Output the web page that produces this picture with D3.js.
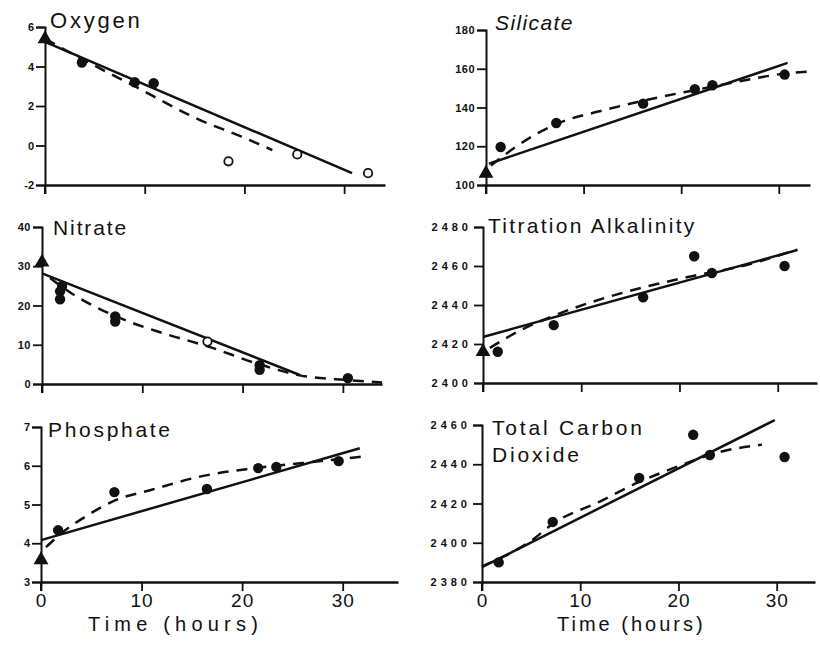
<!DOCTYPE html>
<html>
<head>
<meta charset="utf-8">
<script src="https://cdn.jsdelivr.net/npm/d3@7"></script>
<style>
  body { margin: 0; background: #fff; }
  svg { display: block; font-family: "Liberation Sans", Arial, Helvetica, sans-serif; }
</style>
</head>
<body>
<svg id="chart" width="820" height="649"></svg>
<script>
// ---- shared time axis ----
const hourTicks = [0, 10, 20, 30];

// ---- Oxygen ----
const oxygenTicks = [-2, 0, 2, 4, 6];
const oxygenInitial = [[0, 5.4]];
const oxygenObserved = [[3.7, 4.2], [9.0, 3.2], [10.9, 3.15]];
const oxygenOpen = [[18.4, -0.8], [25.3, -0.45], [32.4, -1.4]];
const oxygenLinear = [[0, 5.25], [30.8, -1.4]];
const oxygenModel = [[0, 5.4], [4, 4.3], [9, 3.0], [15.5, 1.3], [19.7, 0.45], [22.8, -0.23]];

// ---- Silicate ----
const silicateTicks = [100, 120, 140, 160, 180];
const silicateInitial = [[0, 106]];
const silicateObserved = [[1.5, 119.6], [7.2, 132], [16.1, 142], [21.4, 149.5], [23.2, 151.5], [30.6, 157]];
const silicateLinear = [[0.3, 111], [30.9, 163]];
const silicateModel = [[0.5, 110], [3, 119.5], [7.2, 131.5], [12, 138.5], [16.1, 143.5], [21.4, 149], [26, 153.5], [30.6, 157.5], [33.2, 158.6]];

// ---- Nitrate ----
const nitrateTicks = [0, 10, 20, 30, 40];
const nitrateInitial = [[0, 31]];
const nitrateObserved = [[1.8, 21.6], [1.8, 23.6], [2.0, 25.0], [7.3, 17.2], [7.3, 15.9], [21.7, 4.8], [21.7, 3.6], [30.5, 1.5]];
const nitrateOpen = [[16.5, 10.8]];
const nitrateLinear = [[0, 28.2], [25.7, 2.3]];
const nitrateModel = [[0.8, 27], [3, 23], [7.3, 17.3], [12, 13], [16.5, 9.6], [21.7, 5.0], [25.7, 2.2], [30.5, 1.0], [33.9, 0.4]];

// ---- Titration Alkalinity ----
const alkalinityTicks = [2400, 2420, 2440, 2460, 2480];
const alkalinityInitial = [[0, 2416]];
const alkalinityObserved = [[1.5, 2416], [7.2, 2429.7], [16.3, 2444], [21.5, 2465], [23.3, 2456.4], [30.7, 2460]];
const alkalinityLinear = [[0, 2423.6], [32, 2468.2]];
const alkalinityModel = [[0.7, 2418], [3.8, 2427], [7.2, 2434.5], [12, 2443], [16.3, 2449], [21.5, 2455], [26, 2459.5], [32, 2468.5]];

// ---- Phosphate ----
const phosphateTicks = [3, 4, 5, 6, 7];
const phosphateInitial = [[0, 3.57]];
const phosphateObserved = [[1.7, 4.34], [7.3, 5.32], [16.5, 5.4], [21.6, 5.94], [23.4, 5.97], [29.6, 6.12]];
const phosphateLinear = [[0, 4.08], [31.7, 6.45]];
const phosphateModel = [[0.5, 3.9], [2, 4.25], [4.5, 4.7], [7.3, 5.1], [11, 5.38], [15.8, 5.72], [21, 5.93], [26, 6.07], [30, 6.18], [32.5, 6.25]];

// ---- Total Carbon Dioxide ----
const carbonTicks = [2380, 2400, 2420, 2440, 2460];
const carbonObserved = [[1.7, 2390], [7.2, 2410.6], [16, 2433], [21.5, 2455], [23.2, 2444.7], [30.8, 2443.7]];
const carbonLinear = [[0, 2387.6], [29.8, 2462.5]];
const carbonModel = [[0, 2388], [3, 2395], [5, 2401], [7.3, 2410], [12, 2421], [16, 2431], [20, 2439], [24, 2446], [28.5, 2450]];

// ---- panel frames (pixel boxes) ----
const panels = [
  { title: ["Oxygen"], italic: false, titleX: 50, titleY: 28, titleSize: 22, titleSpacing: 2.8,
    left: 45, right: 385, xMax: 34.1, top: 27, bottom: 185, yDomain: [-2, 6], ticks: oxygenTicks,
    tickSpacing: 0, initial: oxygenInitial, observed: oxygenObserved, open: oxygenOpen,
    linear: oxygenLinear, model: oxygenModel, xLabels: false },
  { title: ["Silicate"], italic: true, titleX: 495, titleY: 30, titleSize: 21, titleSpacing: 1.4,
    left: 486, right: 810, xMax: 33.2, top: 30, bottom: 185, yDomain: [100, 180], ticks: silicateTicks,
    tickSpacing: 0.5, initial: silicateInitial, observed: silicateObserved, open: [],
    linear: silicateLinear, model: silicateModel, xLabels: false },
  { title: ["Nitrate"], italic: false, titleX: 53, titleY: 235, titleSize: 21, titleSpacing: 1.9,
    left: 42, right: 382, xMax: 33.9, top: 227, bottom: 384, yDomain: [0, 40], ticks: nitrateTicks,
    tickSpacing: 0.5, initial: nitrateInitial, observed: nitrateObserved, open: nitrateOpen,
    linear: nitrateLinear, model: nitrateModel, xLabels: false },
  { title: ["Titration Alkalinity"], italic: false, titleX: 488, titleY: 233, titleSize: 21, titleSpacing: 2.3,
    left: 483, right: 817, xMax: 34, top: 227, bottom: 383, yDomain: [2400, 2480], ticks: alkalinityTicks,
    tickSpacing: 4, initial: alkalinityInitial, observed: alkalinityObserved, open: [],
    linear: alkalinityLinear, model: alkalinityModel, xLabels: false },
  { title: ["Phosphate"], italic: false, titleX: 48, titleY: 437, titleSize: 21, titleSpacing: 2.7,
    left: 41, right: 398, xMax: 35.5, top: 427, bottom: 582, yDomain: [3, 7], ticks: phosphateTicks,
    tickSpacing: 0, initial: phosphateInitial, observed: phosphateObserved, open: [],
    linear: phosphateLinear, model: phosphateModel, xLabels: true, axisTitleX: 88, axisTitleSpacing: 5.2 },
  { title: ["Total Carbon", "Dioxide"], italic: false, titleX: 492, titleY: 435, titleSize: 21, titleSpacing: 2.8,
    left: 482, right: 815, xMax: 33.9, top: 425, bottom: 582, yDomain: [2380, 2460], ticks: carbonTicks,
    tickSpacing: 4, initial: [], observed: carbonObserved, open: [],
    linear: carbonLinear, model: carbonModel, xLabels: true, axisTitleX: 557, axisTitleSpacing: 3 }
];

const svg = d3.select("#chart");
const ink = "#111";

panels.forEach(p => {
  const x = d3.scaleLinear().domain([0, p.xMax]).range([p.left, p.right]);
  const y = d3.scaleLinear().domain(p.yDomain).range([p.bottom, p.top]);
  const g = svg.append("g");

  // y axis with bracketed top
  const yAxis = d3.axisLeft(y).tickValues(p.ticks).tickFormat(d => String(d))
    .tickSize(9).tickSizeOuter(9).tickPadding(2);
  const ya = g.append("g").attr("transform", `translate(${p.left},0)`).call(yAxis);
  ya.select(".domain").attr("stroke", ink).attr("stroke-width", 2);
  ya.selectAll(".tick line").attr("stroke", ink).attr("stroke-width", 1.8);
  ya.selectAll(".tick text").attr("fill", ink).attr("font-size", 11).attr("font-weight", "bold")
    .attr("letter-spacing", p.tickSpacing).attr("font-family", "'Liberation Sans', Arial, sans-serif");
  // y axis runs a little past the time axis
  g.append("line").attr("x1", p.left).attr("x2", p.left)
    .attr("y1", p.bottom).attr("y2", p.bottom + 9)
    .attr("stroke", ink).attr("stroke-width", 2);

  // time axis
  const xAxis = d3.axisBottom(x).tickValues(hourTicks).tickSize(9).tickSizeOuter(0).tickPadding(3)
    .tickFormat(p.xLabels ? d => String(d) : () => "");
  const xa = g.append("g").attr("transform", `translate(0,${p.bottom})`).call(xAxis);
  xa.select(".domain").attr("stroke", ink).attr("stroke-width", 2.4);
  xa.selectAll(".tick line").attr("stroke", ink).attr("stroke-width", 1.8);
  xa.selectAll(".tick text").attr("fill", ink).attr("font-size", 19).attr("letter-spacing", 1)
    .attr("font-family", "'Liberation Sans', Arial, sans-serif");

  if (p.xLabels) {
    g.append("text").attr("x", p.axisTitleX).attr("y", 631)
      .attr("font-size", 20).attr("letter-spacing", p.axisTitleSpacing).attr("fill", ink)
      .text("Time (hours)");
  }

  // panel title
  p.title.forEach((t, i) => {
    g.append("text").attr("x", p.titleX).attr("y", p.titleY + i * 27)
      .attr("font-size", p.titleSize).attr("letter-spacing", p.titleSpacing)
      .attr("font-style", p.italic ? "italic" : "normal").attr("fill", ink)
      .text(t);
  });

  const line = d3.line().x(d => x(d[0])).y(d => y(d[1]));
  const curve = d3.line().x(d => x(d[0])).y(d => y(d[1])).curve(d3.curveMonotoneX);

  // linear fit (solid) and model (dashed)
  g.append("path").datum(p.linear).attr("d", line)
    .attr("fill", "none").attr("stroke", ink).attr("stroke-width", 2.5);
  g.append("path").datum(p.model).attr("d", curve)
    .attr("fill", "none").attr("stroke", ink).attr("stroke-width", 2.5)
    .attr("stroke-dasharray", "11,8");

  // observations
  g.selectAll(".obs").data(p.observed).join("circle")
    .attr("cx", d => x(d[0])).attr("cy", d => y(d[1])).attr("r", 5.2).attr("fill", ink);
  g.selectAll(".open").data(p.open).join("circle")
    .attr("cx", d => x(d[0])).attr("cy", d => y(d[1])).attr("r", 4.2)
    .attr("fill", "#fff").attr("stroke", ink).attr("stroke-width", 1.8);
  g.selectAll(".init").data(p.initial).join("path")
    .attr("d", d3.symbol().type(d3.symbolTriangle).size(95))
    .attr("transform", d => `translate(${x(d[0])},${y(d[1])})`).attr("fill", ink);
});
</script>
</body>
</html>
